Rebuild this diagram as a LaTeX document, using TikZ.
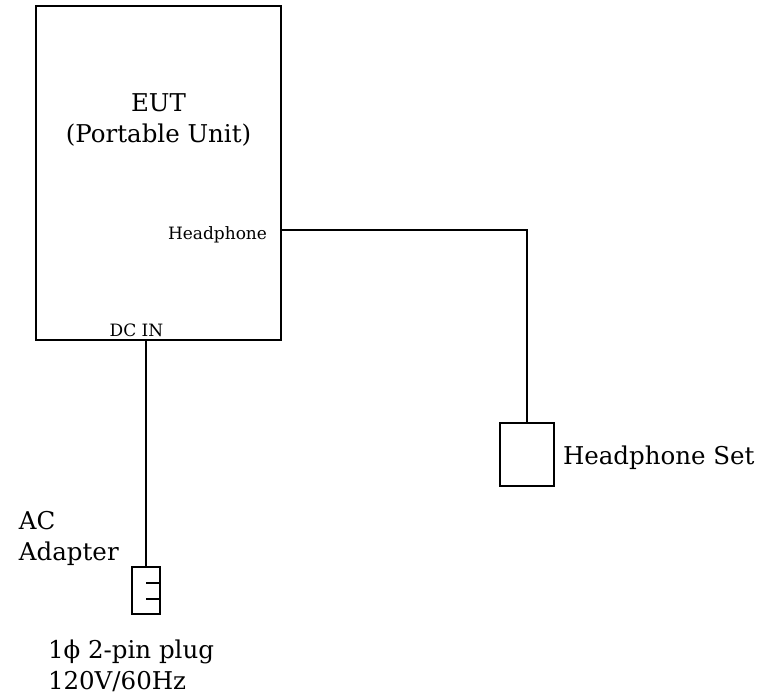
\documentclass[tikz,border=0pt]{standalone}
\usepackage{fontspec}
\setmainfont{DejaVu Serif}
\begin{document}
\begin{tikzpicture}[x=1pt, y=-1pt, line width=2pt,
      every node/.style={inner sep=0pt},
      bigtext/.style={font=\fontsize{24.5}{31}\selectfont},
      smalltext/.style={font=\fontsize{17}{20}\selectfont}]
    \useasboundingbox (0,0) rectangle (777,700);
    \node[draw, minimum width=245pt, minimum height=334pt]
          (EUT) at (158.5,173) {};
    \node[bigtext, align=center, anchor=base]
          (EUTname) at (158.5,143) {EUT\\(Portable Unit)};
    \node[smalltext, anchor=base east] (HPlabel) at (268,240) {Headphone};
    \node[smalltext, anchor=base] (DClabel) at (136.5,337) {DC IN};
    \node[draw, minimum width=54pt, minimum height=63pt]
          (HSET) at (527,455) {};
    \node[bigtext, anchor=base west] (HSETname) at (562,465) {Headphone Set};
    \node[draw, minimum width=28pt, minimum height=47pt]
          (PLUG) at (146,590.5) {};
    \node[bigtext, align=left, anchor=base west]
          (ADAPTER) at (18,560) {AC\\Adapter};
    \node[bigtext, align=left, anchor=base west]
          (PLUGname) at (47,689) {1ϕ 2-pin plug\\120V/60Hz};
    \draw (EUT.east |- 0,230) -| (HSET.north);
    \draw (EUT.south -| PLUG.north) -- (PLUG.north);
    \draw (PLUG.center) ++(0,-7.5) -- ++(14,0);
    \draw (PLUG.center) ++(0,8.5) -- ++(14,0);
  \end{tikzpicture}
\end{document}
